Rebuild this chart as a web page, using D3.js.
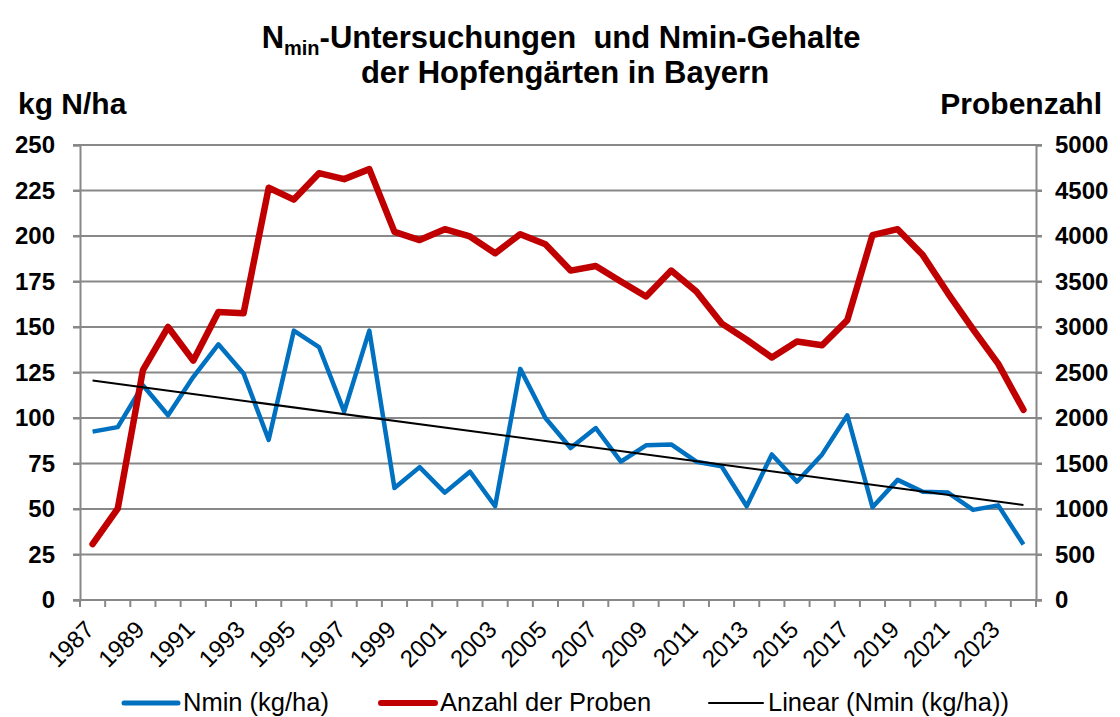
<!DOCTYPE html>
<html>
<head>
<meta charset="utf-8">
<script src="https://cdn.jsdelivr.net/npm/d3@7"></script>
<style>
  body { margin: 0; background: #fff; }
  svg { font-family: "Liberation Sans", Arial, sans-serif; }
</style>
</head>
<body>
<div id="chart"></div>
<script>
// years on the x axis
var years = d3.range(1987, 2025);
// Nmin content, kg N/ha (left axis)
var nmin = [92.5, 95, 118, 101.5, 122.5, 140.5, 124.5, 88, 148, 139, 103.5, 148,
            61.5, 73, 59, 70.5, 51.5, 127, 100, 83.5, 94.5, 76, 85, 85.5,
            76, 73.5, 51.5, 80, 65, 80, 101.5, 51, 66, 59.5, 59, 49.5, 52, 30.5];
// number of samples (right axis)
var proben = [615, 1005, 2525, 3000, 2630, 3165, 3150, 4530, 4400, 4690, 4625, 4735,
              4045, 3955, 4075, 3995, 3810, 4020, 3910, 3620, 3670, 3500, 3335, 3620,
              3390, 3040, 2860, 2665, 2840, 2800, 3075, 4010, 4075, 3790, 3370, 2975, 2595, 2090];
var leftTicks = [0, 25, 50, 75, 100, 125, 150, 175, 200, 225, 250];
var rightTicks = [0, 500, 1000, 1500, 2000, 2500, 3000, 3500, 4000, 4500, 5000];

function drawChart() {
    var width = 1120, height = 717;
    var mLeft = 80, mRight = 1036, mTop = 145, mBottom = 600;
    var gridColor = "#888888";

    var svg = d3.select("#chart").append("svg")
        .attr("width", width)
        .attr("height", height);

    var x = d3.scaleBand().domain(years).range([mLeft, mRight]).padding(0);
    var y = d3.scaleLinear().domain([0, 250]).range([mBottom, mTop]);
    var y2 = d3.scaleLinear().domain([0, 5000]).range([mBottom, mTop]);
    var cx = function (d) { return x(d) + x.bandwidth() / 2; };

    // title
    var title = svg.append("text")
        .attr("x", 561).attr("y", 48)
        .attr("text-anchor", "middle")
        .attr("font-weight", "bold")
        .attr("font-size", 31);
    title.append("tspan").text("N");
    title.append("tspan").attr("font-size", 20).attr("dy", 7).text("min");
    title.append("tspan").attr("dy", -7).attr("xml:space", "preserve").text("-Untersuchungen  und Nmin-Gehalte");
    svg.append("text")
        .attr("x", 565).attr("y", 83)
        .attr("text-anchor", "middle")
        .attr("font-weight", "bold")
        .attr("font-size", 31)
        .text("der Hopfengärten in Bayern");

    svg.append("text")
        .attr("x", 18).attr("y", 114)
        .attr("font-weight", "bold").attr("font-size", 30)
        .text("kg N/ha");
    svg.append("text")
        .attr("x", 1102).attr("y", 114)
        .attr("text-anchor", "end")
        .attr("font-weight", "bold").attr("font-size", 30)
        .text("Probenzahl");

    // gridlines
    svg.append("g").selectAll("line")
        .data(leftTicks)
        .enter().append("line")
        .attr("x1", mLeft - 7).attr("x2", mRight + 6)
        .attr("y1", function (d) { return y(d); })
        .attr("y2", function (d) { return y(d); })
        .attr("stroke", gridColor).attr("stroke-width", 2);

    // y axes
    var yAxis = svg.append("g")
        .attr("transform", "translate(" + mLeft + ",0)")
        .call(d3.axisLeft(y).tickValues(leftTicks).tickSize(7).tickPadding(18));
    var y2Axis = svg.append("g")
        .attr("transform", "translate(" + mRight + ",0)")
        .call(d3.axisRight(y2).tickValues(rightTicks).tickFormat(d3.format("d")).tickSize(6).tickPadding(13));
    [yAxis, y2Axis].forEach(function (g) {
        g.select(".domain").attr("stroke", gridColor).attr("stroke-width", 2);
        g.selectAll(".tick line").attr("stroke", gridColor).attr("stroke-width", 2);
        g.selectAll(".tick text")
            .attr("font-family", "Liberation Sans, Arial, sans-serif")
            .attr("font-size", 24).attr("font-weight", "bold").attr("fill", "#000");
    });

    // x axis
    svg.append("line")
        .attr("x1", mLeft).attr("x2", mRight)
        .attr("y1", mBottom).attr("y2", mBottom)
        .attr("stroke", gridColor).attr("stroke-width", 2);
    svg.append("g").selectAll("line")
        .data(years.concat([null]))
        .enter().append("line")
        .attr("x1", function (d) { return d === null ? mRight : x(d); })
        .attr("x2", function (d) { return d === null ? mRight : x(d); })
        .attr("y1", mBottom).attr("y2", mBottom + 7)
        .attr("stroke", gridColor).attr("stroke-width", 2);

    svg.append("g").selectAll("text")
        .data(years.filter(function (d) { return (d - 1987) % 2 === 0; }))
        .enter().append("text")
        .attr("transform", function (d) { return "translate(" + (cx(d) + 3) + "," + (mBottom + 31) + ") rotate(-45)"; })
        .attr("text-anchor", "end")
        .attr("font-size", 24)
        .text(function (d) { return d; });

    // linear trend of Nmin (least squares)
    var idx = years.map(function (d, i) { return i; });
    var mx = d3.mean(idx), my = d3.mean(nmin);
    var slope = d3.sum(idx, function (i) { return (i - mx) * (nmin[i] - my); }) /
                d3.sum(idx, function (i) { return (i - mx) * (i - mx); });
    var icpt = my - slope * mx;

    var lineN = d3.line()
        .x(function (d, i) { return cx(years[i]); })
        .y(function (d) { return y(d); });
    var lineP = d3.line()
        .x(function (d, i) { return cx(years[i]); })
        .y(function (d) { return y2(d); });

    svg.append("path").datum(nmin)
        .attr("d", lineN)
        .attr("fill", "none").attr("stroke", "#0070C0")
        .attr("stroke-width", 4.5).attr("stroke-linejoin", "round");
    svg.append("path").datum(proben)
        .attr("d", lineP)
        .attr("fill", "none").attr("stroke", "#C00000")
        .attr("stroke-width", 6.5).attr("stroke-linejoin", "round").attr("stroke-linecap", "round");
    svg.append("line")
        .attr("x1", cx(years[0])).attr("x2", cx(years[years.length - 1]))
        .attr("y1", y(icpt)).attr("y2", y(icpt + slope * (years.length - 1)))
        .attr("stroke", "#000").attr("stroke-width", 2);

    // legend
    var legend = [
        { label: "Nmin (kg/ha)", color: "#0070C0", w: 5, x: 124 },
        { label: "Anzahl der Proben", color: "#C00000", w: 6, x: 381 },
        { label: "Linear (Nmin (kg/ha))", color: "#000", w: 2, x: 709 }
    ];
    var lg = svg.append("g").selectAll("g")
        .data(legend)
        .enter().append("g")
        .attr("transform", function (d) { return "translate(" + d.x + ",703)"; });
    lg.append("line")
        .attr("x1", 0).attr("x2", 54)
        .attr("stroke", function (d) { return d.color; })
        .attr("stroke-width", function (d) { return d.w; })
        .attr("stroke-linecap", "round");
    lg.append("text")
        .attr("x", 59).attr("y", 8)
        .attr("font-size", 25.5)
        .text(function (d) { return d.label; });
}

drawChart();
</script>
</body>
</html>
